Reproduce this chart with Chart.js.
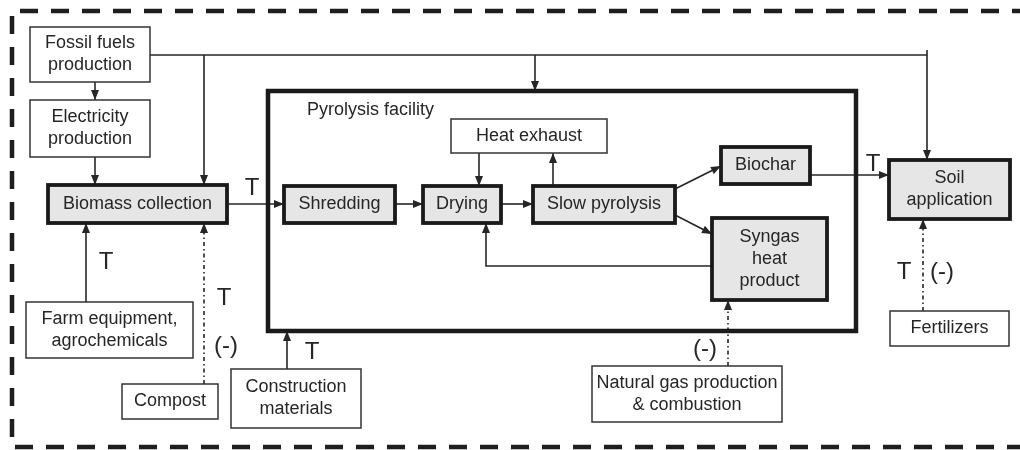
<!DOCTYPE html>
<html>
<head>
<meta charset="utf-8">
<script src="https://cdn.jsdelivr.net/npm/chart.js@4"></script>
<style>
  html, body { margin: 0; padding: 0; background: #fff; }
  canvas { display: block; }
</style>
</head>
<body>
<canvas id="flow" width="1020" height="450"></canvas>
<script>
// box texts
const fossilText = ['Fossil fuels', 'production'];
const electricityText = ['Electricity', 'production'];
const biomassText = ['Biomass collection'];
const farmText = ['Farm equipment,', 'agrochemicals'];
const compostText = ['Compost'];
const constructionText = ['Construction', 'materials'];
const facilityTitle = 'Pyrolysis facility';
const heatText = ['Heat exhaust'];
const shreddingText = ['Shredding'];
const dryingText = ['Drying'];
const slowText = ['Slow pyrolysis'];
const biocharText = ['Biochar'];
const syngasText = ['Syngas', 'heat', 'product'];
const soilText = ['Soil', 'application'];
const fertText = ['Fertilizers'];
const gasText = ['Natural gas production', '& combustion'];
const flowMarks = ['T', '(-)'];

// layout in diagram units (x0, y0, x1, y1), y grows downwards
const boxes = [
  { text: fossilText, r: [30, 27, 150, 82], kind: 'plain' },
  { text: electricityText, r: [30, 100, 150, 157], kind: 'plain' },
  { text: biomassText, r: [48, 185, 227, 223], kind: 'step' },
  { text: farmText, r: [26, 302, 193, 358], kind: 'plain' },
  { text: compostText, r: [122, 384, 218, 419], kind: 'plain' },
  { text: constructionText, r: [231, 369, 361, 428], kind: 'plain' },
  { text: heatText, r: [451, 119, 607, 153], kind: 'plain' },
  { text: shreddingText, r: [284, 186, 395, 223], kind: 'step' },
  { text: dryingText, r: [423, 186, 501, 223], kind: 'step' },
  { text: slowText, r: [533, 186, 675, 223], kind: 'step' },
  { text: biocharText, r: [721, 147, 810, 184], kind: 'step' },
  { text: syngasText, r: [712, 218, 827, 300], kind: 'step' },
  { text: soilText, r: [889, 160, 1010, 219], kind: 'step' },
  { text: fertText, r: [890, 311, 1009, 346], kind: 'plain' },
  { text: gasText, r: [592, 366, 782, 422], kind: 'plain' }
];
const facility = [268, 91, 856, 331];

const links = [
  { p: [[95, 82], [95, 100]] },
  { p: [[95, 157], [95, 185]] },
  { p: [[150, 55], [927, 55]], noHead: true },
  { p: [[204, 55], [204, 185]] },
  { p: [[535, 55], [535, 91]] },
  { p: [[927, 50], [927, 160]] },
  { p: [[227, 204], [284, 204]] },
  { p: [[395, 204], [423, 204]] },
  { p: [[501, 204], [533, 204]] },
  { p: [[479, 153], [479, 186]] },
  { p: [[553, 186], [553, 153]] },
  { p: [[675, 189], [721, 166]] },
  { p: [[675, 215], [712, 234]] },
  { p: [[712, 266], [486, 266], [486, 223]] },
  { p: [[810, 175], [889, 175]] },
  { p: [[86, 302], [86, 223]] },
  { p: [[287, 369], [287, 331]] },
  { p: [[204, 384], [204, 223]], dash: true },
  { p: [[728, 366], [728, 300]], dash: true },
  { p: [[923, 311], [923, 219]], dash: true }
];

const marks = [
  { t: flowMarks[0], at: [252, 188] },
  { t: flowMarks[0], at: [873, 164] },
  { t: flowMarks[0], at: [106, 262] },
  { t: flowMarks[0], at: [224, 298] },
  { t: flowMarks[1], at: [226, 346] },
  { t: flowMarks[0], at: [312, 352] },
  { t: flowMarks[1], at: [705, 349] },
  { t: flowMarks[0], at: [904, 272] },
  { t: flowMarks[1], at: [942, 272] }
];

const INK = '#262626';
const FONT = '"Liberation Sans", Arial, sans-serif';

const flowPlugin = {
  id: 'flow',
  afterDraw(chart) {
    const ctx = chart.ctx;
    const xs = chart.scales.x, ys = chart.scales.y;
    const px = v => xs.getPixelForValue(v);
    const py = v => ys.getPixelForValue(v);
    ctx.save();

    // outer dashed system boundary
    ctx.strokeStyle = '#1e1e1e';
    ctx.lineWidth = 4.5;
    ctx.setLineDash([18, 13]);
    ctx.beginPath();
    ctx.moveTo(px(1030), py(11));
    ctx.lineTo(px(12), py(11));
    ctx.lineTo(px(12), py(447));
    ctx.lineTo(px(1030), py(447));
    ctx.stroke();
    ctx.setLineDash([]);

    // links
    links.forEach(l => {
      const pts = l.p.map(q => [px(q[0]), py(q[1])]);
      ctx.strokeStyle = INK;
      ctx.lineWidth = 1.6;
      ctx.setLineDash(l.dash ? [4, 3, 1.5, 3] : []);
      ctx.beginPath();
      ctx.moveTo(pts[0][0], pts[0][1]);
      pts.slice(1).forEach(q => ctx.lineTo(q[0], q[1]));
      ctx.stroke();
      ctx.setLineDash([]);
      if (!l.noHead) {
        const a = pts[pts.length - 2], b = pts[pts.length - 1];
        const ang = Math.atan2(b[1] - a[1], b[0] - a[0]);
        const len = 10, half = 4;
        ctx.fillStyle = INK;
        ctx.beginPath();
        ctx.moveTo(b[0], b[1]);
        ctx.lineTo(b[0] - len * Math.cos(ang) + half * Math.sin(ang), b[1] - len * Math.sin(ang) - half * Math.cos(ang));
        ctx.lineTo(b[0] - len * Math.cos(ang) - half * Math.sin(ang), b[1] - len * Math.sin(ang) + half * Math.cos(ang));
        ctx.closePath();
        ctx.fill();
      }
    });

    // pyrolysis facility frame
    ctx.strokeStyle = '#1a1a1a';
    ctx.lineWidth = 4.5;
    ctx.strokeRect(px(facility[0]), py(facility[1]), px(facility[2]) - px(facility[0]), py(facility[3]) - py(facility[1]));
    ctx.fillStyle = INK;
    ctx.font = '18px ' + FONT;
    ctx.textAlign = 'left';
    ctx.textBaseline = 'middle';
    ctx.fillText(facilityTitle, px(307), py(110));

    // boxes
    boxes.forEach(b => {
      const [x0, y0, x1, y1] = b.r;
      const X = px(x0), Y = py(y0), W = px(x1) - X, H = py(y1) - Y;
      if (b.kind === 'step') {
        ctx.fillStyle = '#e6e6e6';
        ctx.fillRect(X, Y, W, H);
        ctx.strokeStyle = '#1a1a1a';
        ctx.lineWidth = 3.8;
      } else {
        ctx.fillStyle = '#ffffff';
        ctx.fillRect(X, Y, W, H);
        ctx.strokeStyle = '#333';
        ctx.lineWidth = 1.5;
      }
      ctx.strokeRect(X, Y, W, H);
      ctx.fillStyle = INK;
      ctx.font = '18px ' + FONT;
      ctx.textAlign = 'center';
      ctx.textBaseline = 'middle';
      const lh = 22;
      const cy = Y + H / 2 - (b.text.length - 1) * lh / 2;
      b.text.forEach((s, i) => ctx.fillText(s, X + W / 2, cy + i * lh));
    });

    // T and (-) flow marks
    ctx.fillStyle = INK;
    ctx.font = '24px ' + FONT;
    ctx.textAlign = 'center';
    ctx.textBaseline = 'middle';
    marks.forEach(m => ctx.fillText(m.t, px(m.at[0]), py(m.at[1])));

    ctx.restore();
  }
};

new Chart(document.getElementById('flow').getContext('2d'), {
  type: 'scatter',
  data: {
    datasets: [{
      data: boxes.map(b => ({ x: (b.r[0] + b.r[2]) / 2, y: (b.r[1] + b.r[3]) / 2 })),
      pointRadius: 0
    }]
  },
  options: {
    responsive: false,
    animation: false,
    devicePixelRatio: 1,
    layout: { padding: 0 },
    scales: {
      x: { type: 'linear', min: 0, max: 1020, display: false },
      y: { type: 'linear', min: 0, max: 450, reverse: true, display: false }
    },
    plugins: {
      legend: { display: false },
      tooltip: { enabled: false }
    }
  },
  plugins: [flowPlugin]
});
</script>
</body>
</html>
